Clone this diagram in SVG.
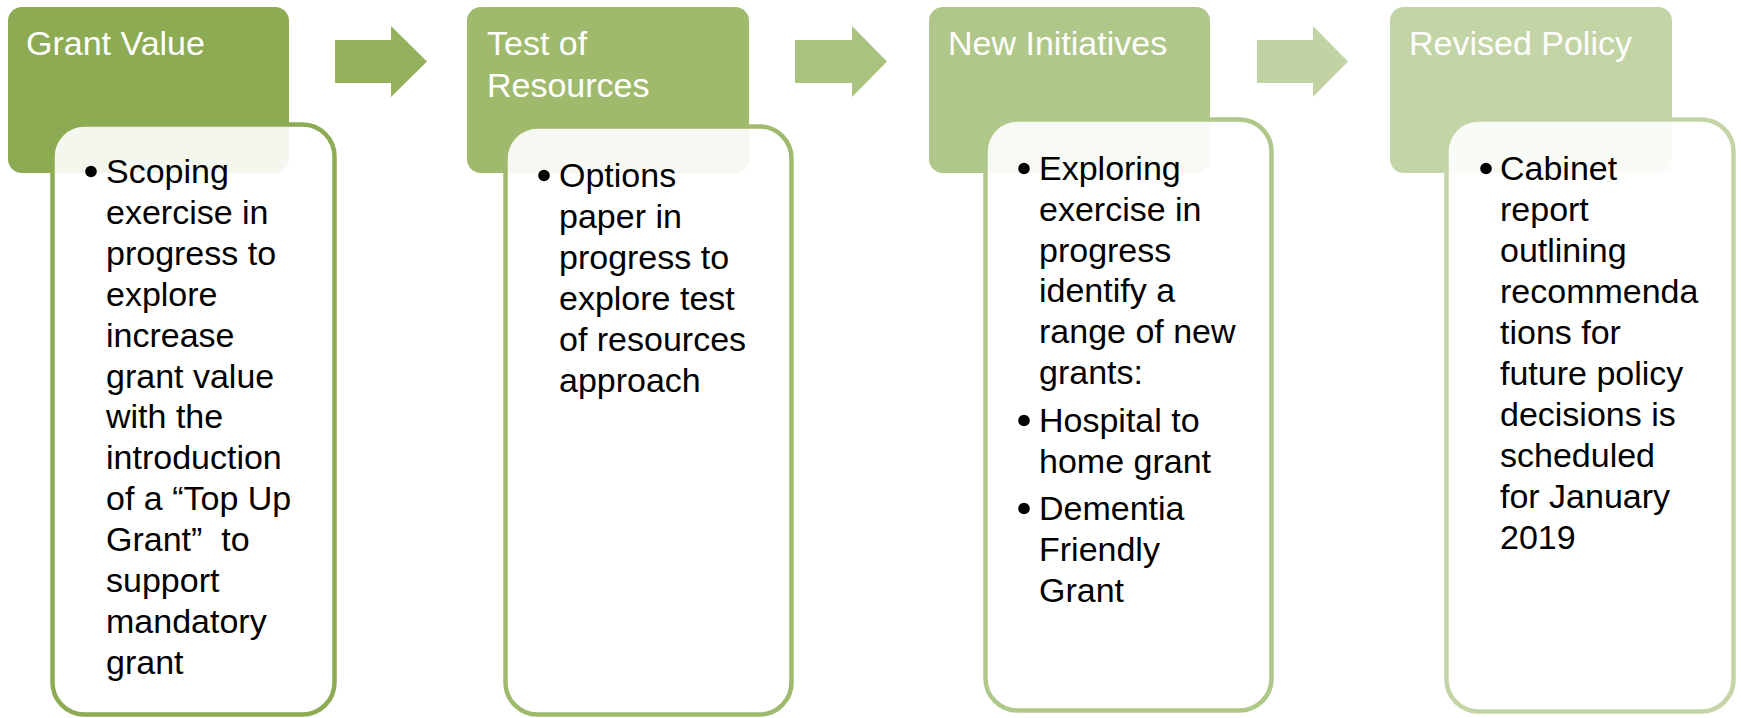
<svg xmlns="http://www.w3.org/2000/svg" width="1741" height="718" viewBox="0 0 1741 718">
<style>
  .hdr { font-family: "Liberation Sans", Arial, sans-serif; font-size: 34px; fill: #ffffff; }
  .txt { font-family: "Liberation Sans", Arial, sans-serif; font-size: 34px; fill: #000000; }
  .body { fill: #ffffff; fill-opacity: 0.9; stroke-width: 4.5; }
  .bul { fill: #000000; }
</style>
<rect width="1741" height="718" fill="#ffffff"/>
<g id="connectors">
  <polygon points="335,40 391,40 391,26 427,61.5 391,97 391,83 335,83" fill="#95b15c"/>
  <polygon points="795,40 852,40 852,26 887,61.5 852,97 852,83 795,83" fill="#a9c27f"/>
  <polygon points="1257,40 1313,40 1313,26 1348,61.5 1313,97 1313,83 1257,83" fill="#c1d3a2"/>
</g>
<g id="node1">
  <rect x="8" y="7" width="281" height="166" rx="14" fill="#8dab53"/>
  <text class="hdr" x="26" y="55">Grant Value</text>
  <rect class="body" x="52.5" y="124.5" width="282" height="590" rx="32" stroke="#8dab53"/>
  <circle class="bul" cx="91" cy="171.5" r="5.8"/>
  <text class="txt">
    <tspan x="106" y="183">Scoping</tspan>
    <tspan x="106" y="223.9">exercise in</tspan>
    <tspan x="106" y="264.8">progress to</tspan>
    <tspan x="106" y="305.7">explore</tspan>
    <tspan x="106" y="346.6">increase</tspan>
    <tspan x="106" y="387.5">grant value</tspan>
    <tspan x="106" y="428.4">with the</tspan>
    <tspan x="106" y="469.3">introduction</tspan>
    <tspan x="106" y="510.2">of a “Top Up</tspan>
    <tspan x="106" y="551.1">Grant”&#160; to</tspan>
    <tspan x="106" y="592">support</tspan>
    <tspan x="106" y="632.9">mandatory</tspan>
    <tspan x="106" y="673.8">grant</tspan>
  </text>
</g>
<g id="node2">
  <rect x="467" y="7" width="282" height="166" rx="14" fill="#9fba6d"/>
  <text class="hdr"><tspan x="487" y="55">Test of</tspan><tspan x="487" y="97">Resources</tspan></text>
  <rect class="body" x="505.5" y="126.5" width="286" height="588" rx="32" stroke="#9fba6d"/>
  <circle class="bul" cx="544" cy="175.5" r="5.8"/>
  <text class="txt">
    <tspan x="559" y="187">Options</tspan>
    <tspan x="559" y="228">paper in</tspan>
    <tspan x="559" y="269">progress to</tspan>
    <tspan x="559" y="310">explore test</tspan>
    <tspan x="559" y="351">of resources</tspan>
    <tspan x="559" y="392">approach</tspan>
  </text>
</g>
<g id="node3">
  <rect x="929" y="7" width="281" height="166" rx="14" fill="#b0c78a"/>
  <text class="hdr" x="948" y="55">New Initiatives</text>
  <rect class="body" x="985.5" y="119.5" width="286" height="591" rx="32" stroke="#b0c78a"/>
  <circle class="bul" cx="1024" cy="168.5" r="5.8"/>
  <circle class="bul" cx="1024" cy="420.5" r="5.8"/>
  <circle class="bul" cx="1024" cy="508.5" r="5.8"/>
  <text class="txt">
    <tspan x="1039" y="180">Exploring</tspan>
    <tspan x="1039" y="220.8">exercise in</tspan>
    <tspan x="1039" y="261.6">progress</tspan>
    <tspan x="1039" y="302.4">identify a</tspan>
    <tspan x="1039" y="343.2">range of new</tspan>
    <tspan x="1039" y="384">grants:</tspan>
    <tspan x="1039" y="432">Hospital to</tspan>
    <tspan x="1039" y="472.8">home grant</tspan>
    <tspan x="1039" y="520">Dementia</tspan>
    <tspan x="1039" y="560.8">Friendly</tspan>
    <tspan x="1039" y="601.6">Grant</tspan>
  </text>
</g>
<g id="node4">
  <rect x="1390" y="7" width="282" height="166" rx="14" fill="#c3d4a6"/>
  <text class="hdr" x="1409" y="55">Revised Policy</text>
  <rect class="body" x="1446.5" y="119.5" width="287" height="592" rx="32" stroke="#c3d4a6"/>
  <circle class="bul" cx="1486" cy="168.5" r="5.8"/>
  <text class="txt">
    <tspan x="1500" y="180">Cabinet</tspan>
    <tspan x="1500" y="221">report</tspan>
    <tspan x="1500" y="262">outlining</tspan>
    <tspan x="1500" y="303">recommenda</tspan>
    <tspan x="1500" y="344">tions for</tspan>
    <tspan x="1500" y="385">future policy</tspan>
    <tspan x="1500" y="426">decisions is</tspan>
    <tspan x="1500" y="467">scheduled</tspan>
    <tspan x="1500" y="508">for January</tspan>
    <tspan x="1500" y="549">2019</tspan>
  </text>
</g>
</svg>
